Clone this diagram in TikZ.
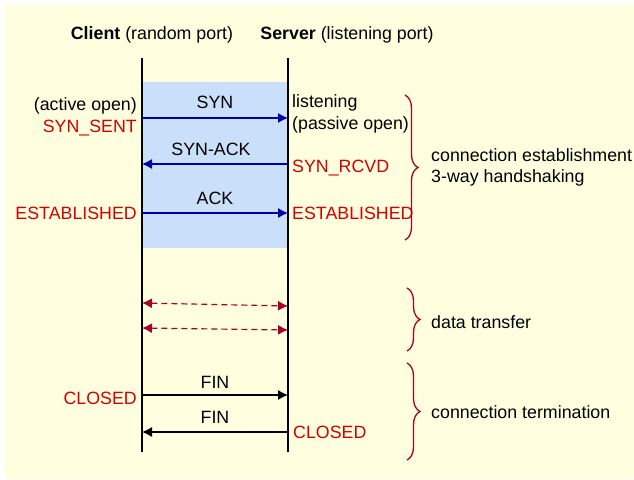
\documentclass[tikz,border=0pt]{standalone}
\usepackage{fontspec}
\setmainfont{Liberation Sans}
\usetikzlibrary{arrows.meta,decorations.pathreplacing}
\definecolor{bgyellow}{RGB}{255,255,224}
\definecolor{shadeblue}{RGB}{202,224,250}
\definecolor{msgblue}{RGB}{0,0,170}
\definecolor{statered}{RGB}{210,0,0}
\definecolor{bracered}{RGB}{170,0,40}
\tikzset{
  txt/.style={inner sep=0pt, font=\fontsize{17.8}{21}\selectfont},
  state/.style={txt, text=statered},
  lifeline/.style={line width=2.6pt, black},
  msg/.style={line width=1.2pt, msgblue, -{Latex[length=10pt,width=10pt]}},
  finmsg/.style={line width=1.2pt, black, -{Latex[length=10pt,width=10pt]}},
  datamsg/.style={line width=1.2pt, bracered, dashed, dash pattern=on 6pt off 4pt, {Latex[length=10pt,width=10pt]}-{Latex[length=10pt,width=10pt]}},
  bracestyle/.style={line width=1.3pt, bracered, decorate, decoration={brace, amplitude=13pt}}
}
\begin{document}
\begin{tikzpicture}[x=1pt,y=-1pt]
\useasboundingbox (0,0) rectangle (634,479);
\fill[bgyellow] (5,5) rectangle (634,479);
\fill[shadeblue] (142,82) rectangle (288,248);
% titles
\node[txt] (ctitle) at (152,35) {\textbf{Client} (random port)};
\node[txt] (stitle) at (347,35) {\textbf{Server} (listening port)};
% lifelines
\coordinate (c0) at (142,58); \coordinate (c1) at (142,452);
\coordinate (s0) at (288,58); \coordinate (s1) at (288,452);
\draw[lifeline] (c0) -- (c1);
\draw[lifeline] (s0) -- (s1);
% handshake
\coordinate (synC) at (142,118); \coordinate (synS) at (288,118);
\coordinate (sackC) at (142,164); \coordinate (sackS) at (288,164);
\coordinate (ackC) at (142,213); \coordinate (ackS) at (288,213);
\draw[msg] (synC) -- (synS);
\draw[msg] (sackS) -- (sackC);
\draw[msg] (ackC) -- (ackS);
\node[txt] (synl) at (215,102) {SYN};
\node[txt] (sackl) at (211,149) {SYN-ACK};
\node[txt] (ackl) at (215,198) {ACK};
\node[txt, anchor=east] (actopen) at (137,106) {(active open)};
\node[state, anchor=east] (synsent) at (137,128) {SYN\_SENT};
\node[state, anchor=east] (estc) at (137,213) {ESTABLISHED};
\node[txt, anchor=west] (listen) at (292,103) {listening};
\node[txt, anchor=west] (passopen) at (292,125) {(passive open)};
\node[state, anchor=west] (synrcvd) at (292,168) {SYN\_RCVD};
\node[state, anchor=west] (ests) at (292,213) {ESTABLISHED};
% data transfer
\coordinate (d1C) at (142,303); \coordinate (d1S) at (288,306);
\coordinate (d2C) at (142,328); \coordinate (d2S) at (288,330);
\draw[datamsg] (d1C) -- (d1S);
\draw[datamsg] (d2C) -- (d2S);
% termination
\coordinate (f1C) at (142,395); \coordinate (f1S) at (288,395);
\coordinate (f2C) at (142,432); \coordinate (f2S) at (288,432);
\draw[finmsg] (f1C) -- (f1S);
\draw[finmsg] (f2S) -- (f2C);
\node[txt] (fin1) at (215,382) {FIN};
\node[txt] (fin2) at (215,417) {FIN};
\node[state, anchor=east] (closedc) at (137,398) {CLOSED};
\node[state, anchor=west] (closeds) at (293,432) {CLOSED};
% braces
\coordinate (b1t) at (405,95); \coordinate (b1b) at (405,240);
\coordinate (b2t) at (407,288); \coordinate (b2b) at (407,351);
\coordinate (b3t) at (407,363); \coordinate (b3b) at (407,460);
\draw[bracestyle] (b1t) -- (b1b);
\draw[bracestyle] (b2t) -- (b2b);
\draw[bracestyle] (b3t) -- (b3b);
\node[txt, anchor=west, align=left] (estlabel) at (431,167) {connection establishment\\3-way handshaking};
\node[txt, anchor=west] (dtlabel) at (431,322) {data transfer};
\node[txt, anchor=west] (termlabel) at (431,412) {connection termination};
\end{tikzpicture}
\end{document}
